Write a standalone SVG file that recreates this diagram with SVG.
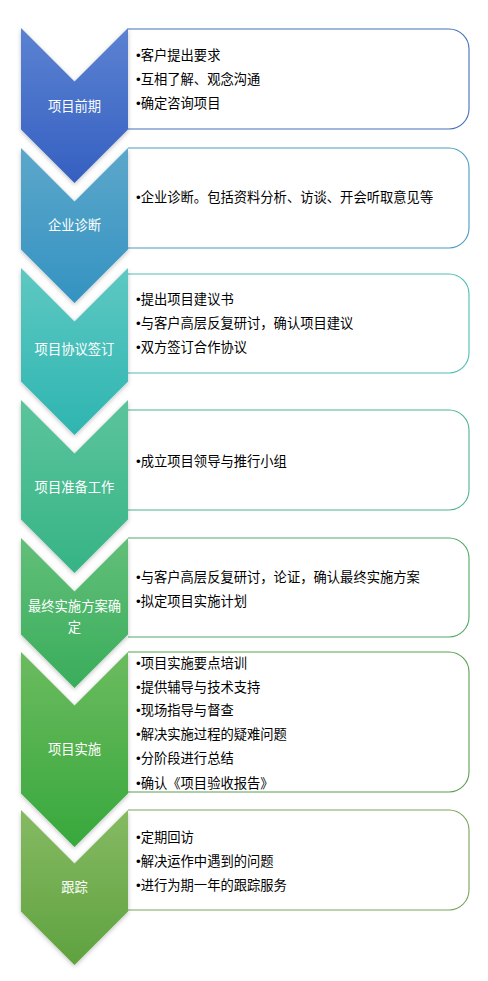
<svg xmlns="http://www.w3.org/2000/svg" width="488" height="981" viewBox="0 0 488 981">
<style>
.box{fill:#ffffff;stroke-width:1.1}
.lbl{font-family:"Noto Sans CJK SC","Liberation Sans",sans-serif;font-size:13.3px;fill:#ffffff;text-anchor:middle}
.txt{font-family:"Noto Sans CJK SC","Liberation Sans",sans-serif;font-size:13.3px;fill:#000000}
.b{font-family:"Liberation Sans",sans-serif}
</style>
<defs>
<filter id="sh" x="-20%" y="-10%" width="140%" height="125%">
<feDropShadow dx="0" dy="1.5" stdDeviation="2" flood-color="#000000" flood-opacity="0.25"/>
</filter>
<linearGradient id="g1" x1="0" y1="0" x2="0" y2="1"><stop offset="0" stop-color="#5b82d2"/><stop offset="1" stop-color="#3560c1"/></linearGradient>
<linearGradient id="g2" x1="0" y1="0" x2="0" y2="1"><stop offset="0" stop-color="#5ca7cb"/><stop offset="1" stop-color="#3493c1"/></linearGradient>
<linearGradient id="g3" x1="0" y1="0" x2="0" y2="1"><stop offset="0" stop-color="#5ec8c2"/><stop offset="1" stop-color="#2eb5b1"/></linearGradient>
<linearGradient id="g4" x1="0" y1="0" x2="0" y2="1"><stop offset="0" stop-color="#5cc49d"/><stop offset="1" stop-color="#36b486"/></linearGradient>
<linearGradient id="g5" x1="0" y1="0" x2="0" y2="1"><stop offset="0" stop-color="#62bf79"/><stop offset="1" stop-color="#39ad5b"/></linearGradient>
<linearGradient id="g6" x1="0" y1="0" x2="0" y2="1"><stop offset="0" stop-color="#6cbb5f"/><stop offset="1" stop-color="#37a83c"/></linearGradient>
<linearGradient id="g7" x1="0" y1="0" x2="0" y2="1"><stop offset="0" stop-color="#86ba63"/><stop offset="1" stop-color="#5fa23f"/></linearGradient>
</defs>
<rect width="488" height="981" fill="#ffffff"/>
<g id="connectors"></g>

<g id="step1">
<path class="box" stroke="#4470b8" d="M128,29 H449 A20,20 0 0 1 469,49 V109 A20,20 0 0 1 449,129 H128"/>
<path filter="url(#sh)" fill="url(#g1)" d="M21,28 L74.5,81.5 L128,28 L128,129.5 L74.5,183 L21,129.5 Z"/>
<text class="lbl" x="74.5" y="111">项目前期</text>
<text class="txt" x="136" y="60"><tspan class="b">•</tspan>客户提出要求</text>
<text class="txt" x="136" y="84"><tspan class="b">•</tspan>互相了解、观念沟通</text>
<text class="txt" x="136" y="108"><tspan class="b">•</tspan>确定咨询项目</text>
</g>

<g id="step2">
<path class="box" stroke="#4d9cc2" d="M128,148 H449 A20,20 0 0 1 469,168 V228 A20,20 0 0 1 449,248 H128"/>
<path filter="url(#sh)" fill="url(#g2)" d="M21,148 L74.5,201.5 L128,148 L128,249.5 L74.5,303 L21,249.5 Z"/>
<text class="lbl" x="74.5" y="230">企业诊断</text>
<text class="txt" x="136" y="202"><tspan class="b">•</tspan>企业诊断。包括资料分析、访谈、开会听取意见等</text>
</g>

<g id="step3">
<path class="box" stroke="#4dbdb6" d="M128,274 H449 A20,20 0 0 1 469,294 V353 A20,20 0 0 1 449,373 H128"/>
<path filter="url(#sh)" fill="url(#g3)" d="M21,268 L74.5,321.5 L128,268 L128,381.5 L74.5,435 L21,381.5 Z"/>
<text class="lbl" x="74.5" y="354">项目协议签订</text>
<text class="txt" x="136" y="304"><tspan class="b">•</tspan>提出项目建议书</text>
<text class="txt" x="136" y="328"><tspan class="b">•</tspan>与客户高层反复研讨，确认项目建议</text>
<text class="txt" x="136" y="352"><tspan class="b">•</tspan>双方签订合作协议</text>
</g>

<g id="step4">
<path class="box" stroke="#4fb48c" d="M128,410 H449 A20,20 0 0 1 469,430 V490 A20,20 0 0 1 449,510 H128"/>
<path filter="url(#sh)" fill="url(#g4)" d="M21,400 L74.5,453.5 L128,400 L128,519.5 L74.5,573 L21,519.5 Z"/>
<text class="lbl" x="74.5" y="492">项目准备工作</text>
<text class="txt" x="136" y="466"><tspan class="b">•</tspan>成立项目领导与推行小组</text>
</g>

<g id="step5">
<path class="box" stroke="#50aa66" d="M128,538 H449 A20,20 0 0 1 469,558 V617 A20,20 0 0 1 449,637 H128"/>
<path filter="url(#sh)" fill="url(#g5)" d="M21,538 L74.5,591.5 L128,538 L128,634.5 L74.5,688 L21,634.5 Z"/>
<text class="lbl" x="74.5" y="611">最终实施方案确</text>
<text class="lbl" x="74.5" y="632">定</text>
<text class="txt" x="136" y="582"><tspan class="b">•</tspan>与客户高层反复研讨，论证，确认最终实施方案</text>
<text class="txt" x="136" y="606"><tspan class="b">•</tspan>拟定项目实施计划</text>
</g>

<g id="step6">
<path class="box" stroke="#5c9f52" d="M128,652 H449 A20,20 0 0 1 469,672 V772 A20,20 0 0 1 449,792 H128"/>
<path filter="url(#sh)" fill="url(#g6)" d="M21,652 L74.5,705.5 L128,652 L128,793.5 L74.5,847 L21,793.5 Z"/>
<text class="lbl" x="74.5" y="754">项目实施</text>
<text class="txt" x="136" y="668"><tspan class="b">•</tspan>项目实施要点培训</text>
<text class="txt" x="136" y="692"><tspan class="b">•</tspan>提供辅导与技术支持</text>
<text class="txt" x="136" y="715"><tspan class="b">•</tspan>现场指导与督查</text>
<text class="txt" x="136" y="739"><tspan class="b">•</tspan>解决实施过程的疑难问题</text>
<text class="txt" x="136" y="763"><tspan class="b">•</tspan>分阶段进行总结</text>
<text class="txt" x="136" y="788"><tspan class="b">•</tspan>确认《项目验收报告》</text>
</g>

<g id="step7">
<path class="box" stroke="#7ca35c" d="M128,810 H449 A20,20 0 0 1 469,830 V890 A20,20 0 0 1 449,910 H128"/>
<path filter="url(#sh)" fill="url(#g7)" d="M21,810 L74.5,863.5 L128,810 L128,911.5 L74.5,965 L21,911.5 Z"/>
<text class="lbl" x="74.5" y="892">跟踪</text>
<text class="txt" x="136" y="842"><tspan class="b">•</tspan>定期回访</text>
<text class="txt" x="136" y="866"><tspan class="b">•</tspan>解决运作中遇到的问题</text>
<text class="txt" x="136" y="890"><tspan class="b">•</tspan>进行为期一年的跟踪服务</text>
</g>
</svg>
